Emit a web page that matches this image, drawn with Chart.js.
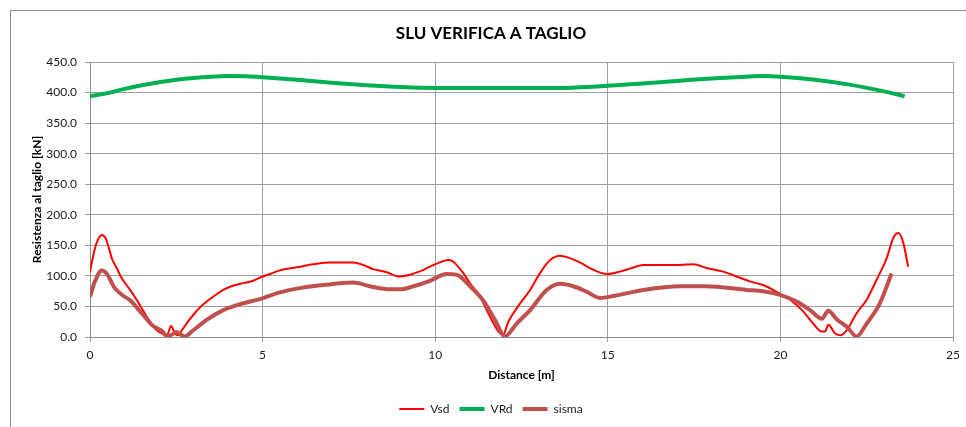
<!DOCTYPE html>
<html>
<head>
<meta charset="utf-8">
<title>SLU verifica a taglio</title>
<script src="https://cdn.jsdelivr.net/npm/chart.js@4.4.1/dist/chart.umd.min.js"></script>
<style>
  html, body { margin: 0; padding: 0; background: #fff; }
  canvas { display: block; }
</style>
</head>
<body>
<canvas id="shearChart" width="966" height="427"></canvas>
<script>
// distance along the beam [m] and shear [kN]
const vsdDist = [0.00, 0.12, 0.22, 0.34, 0.45, 0.55, 0.63, 0.78, 0.92, 1.15, 1.35, 1.55, 1.74, 1.92, 2.08, 2.23, 2.35, 2.46, 2.55, 2.66, 2.82, 2.99, 3.18, 3.38, 3.62, 3.86, 4.10, 4.35, 4.72, 5.00, 5.25, 5.50, 5.99, 6.46, 6.95, 7.30, 7.62, 7.91, 8.20, 8.60, 8.93, 9.27, 9.66, 10.04, 10.38, 10.50, 10.62, 10.82, 11.01, 11.30, 11.59, 11.83, 11.96, 12.12, 12.46, 12.75, 13.04, 13.33, 13.62, 13.90, 14.19, 14.58, 14.97, 15.35, 15.70, 16.03, 16.50, 17.09, 17.48, 17.86, 18.35, 18.73, 19.12, 19.50, 19.89, 20.28, 20.66, 20.95, 21.20, 21.29, 21.39, 21.58, 21.73, 21.92, 22.21, 22.50, 22.79, 23.08, 23.27, 23.42, 23.56, 23.70];
const vsdValues = [107, 140, 158, 167, 162, 145, 129, 112, 96, 78, 61, 42, 25, 12, 6, 3, 18, 6, 3, 11, 24, 36, 48, 58, 68, 77, 83, 87, 92, 99, 104, 109, 114, 119, 122, 122, 122, 118, 111, 106, 99, 102, 110, 120, 126, 124, 118, 104, 88, 66, 33, 9, 3, 25, 55, 77, 105, 126, 133, 129, 122, 110, 103, 107, 113, 118, 118, 118, 119, 113, 107, 99, 91, 85, 74, 61, 42, 22, 9, 9, 20, 6, 3, 11, 39, 61, 94, 129, 162, 170, 154, 115];

const vrdDist = [0, 0.5, 1, 1.5, 2, 2.5, 3, 3.5, 4, 4.5, 5, 6, 7, 8, 9, 10, 12, 13.5, 14, 15, 16, 17, 18, 19, 19.5, 20, 21, 22, 23, 23.6];
const vrdValues = [394, 399, 406, 412, 417, 421, 424, 426, 427, 426.5, 425, 421, 416, 412, 409, 407.5, 407.5, 407.5, 408, 411, 415, 419, 423, 426, 427, 426, 421, 413, 402, 394];

const sismaDist = [0.00, 0.15, 0.34, 0.48, 0.72, 0.95, 1.16, 1.54, 1.83, 2.08, 2.24, 2.40, 2.51, 2.62, 2.75, 2.99, 3.38, 3.86, 4.35, 4.92, 5.50, 6.08, 6.76, 7.63, 8.11, 8.69, 8.98, 9.37, 9.85, 10.33, 10.62, 11.01, 11.39, 11.73, 12.02, 12.36, 12.75, 13.23, 13.62, 14.00, 14.39, 14.77, 15.16, 16.03, 17.09, 17.86, 19.02, 19.50, 19.99, 20.47, 20.86, 21.20, 21.39, 21.63, 21.92, 22.21, 22.50, 22.88, 23.22];
const sismaValues = [66, 92, 109, 104, 80, 68, 60, 36, 18, 10, 1, 5, 8, 4, 1, 11, 28, 44, 54, 62, 73, 80, 85, 89, 83, 78, 78, 83, 92, 103, 102, 83, 60, 28, 1, 22, 44, 77, 87, 83, 74, 64, 67, 77, 83, 83, 77, 75, 69, 58, 44, 30, 43, 29, 17, 1, 22, 55, 104];

const seriesNames = ['Vsd', 'VRd', 'sisma'];
const xTicks = [0, 5, 10, 15, 20, 25];
const yTicks = [0, 50, 100, 150, 200, 250, 300, 350, 400, 450];

function toPoints(dist, values) {
  return dist.map((x, i) => ({ x: x, y: values[i] }));
}

// white page plus the grey outer frame of the chart
const chartFrame = {
  id: 'chartFrame',
  beforeDraw(chart) {
    const ctx = chart.ctx;
    ctx.save();
    ctx.fillStyle = '#ffffff';
    ctx.fillRect(0, 0, chart.width, chart.height);
    ctx.strokeStyle = '#8c8c8c';
    ctx.lineWidth = 1;
    ctx.strokeRect(10.5, 10.5, chart.width + 20, chart.height + 20);
    ctx.restore();
  }
};

Chart.defaults.font.family = 'Lato';
Chart.defaults.color = '#1a1a1a';

var shearChart = new Chart(
  document.getElementById('shearChart'),
  {
    type: 'line',
    plugins: [chartFrame],
    data: {
      datasets: [
        {
          label: seriesNames[0],
          data: toPoints(vsdDist, vsdValues),
          borderColor: '#ff0000',
          backgroundColor: '#ff0000',
          borderWidth: 2,
          cubicInterpolationMode: 'monotone',
          pointRadius: 0,
          order: 2,
        },
        {
          label: seriesNames[1],
          data: toPoints(vrdDist, vrdValues),
          borderColor: '#00b050',
          backgroundColor: '#00b050',
          borderWidth: 4,
          cubicInterpolationMode: 'monotone',
          pointRadius: 0,
          order: 1,
        },
        {
          label: seriesNames[2],
          data: toPoints(sismaDist, sismaValues),
          borderColor: '#c0504d',
          backgroundColor: '#c0504d',
          borderWidth: 4,
          cubicInterpolationMode: 'monotone',
          pointRadius: 0,
          order: 0,
        }
      ]
    },
    options: {
      animation: false,
      responsive: false,
      layout: {
        padding: { left: 16, right: 0, top: 0, bottom: 2 }
      },
      plugins: {
        title: {
          display: true,
          text: 'SLU VERIFICA A TAGLIO',
          color: '#000',
          font: { size: 17, weight: 'bold' },
          padding: { top: 23, bottom: 18.6 }
        },
        legend: {
          display: true,
          position: 'bottom',
          labels: {
            usePointStyle: true,
            pointStyle: 'line',
            pointStyleWidth: 25,
            padding: 10,
            font: { size: 12 },
            sort: (a, b) => a.datasetIndex - b.datasetIndex
          }
        },
        tooltip: {
          enabled: false
        }
      },
      scales: {
        x: {
          type: 'linear',
          min: 0,
          max: 25,
          afterBuildTicks: (scale) => {
            scale.ticks = xTicks.map(v => ({ value: v }));
          },
          afterFit: (scale) => {
            scale.height = 56;
            scale.paddingRight = 13;
          },
          ticks: {
            padding: 6,
            maxRotation: 0,
            font: { size: 12 }
          },
          grid: {
            color: '#a0a0a0',
            tickLength: 5
          },
          border: { color: '#8c8c8c' },
          title: {
            display: true,
            text: 'Distance [m]',
            color: '#000',
            font: { size: 12, weight: 'bold' },
            padding: { top: 0, bottom: 10.3 }
          }
        },
        y: {
          min: 0,
          max: 450,
          afterBuildTicks: (scale) => {
            scale.ticks = yTicks.map(v => ({ value: v }));
          },
          afterFit: (scale) => {
            scale.width = 74;
          },
          ticks: {
            padding: 8,
            font: { size: 12 },
            callback: (value) => value.toFixed(1)
          },
          grid: {
            color: '#a0a0a0',
            tickLength: 5
          },
          border: { color: '#8c8c8c' },
          title: {
            display: true,
            text: 'Resistenza al taglio [kN]',
            color: '#000',
            font: { size: 12, weight: 'bold' },
            padding: { top: 13.8, bottom: 0 }
          }
        }
      }
    }
  }
);
</script>
</body>
</html>
